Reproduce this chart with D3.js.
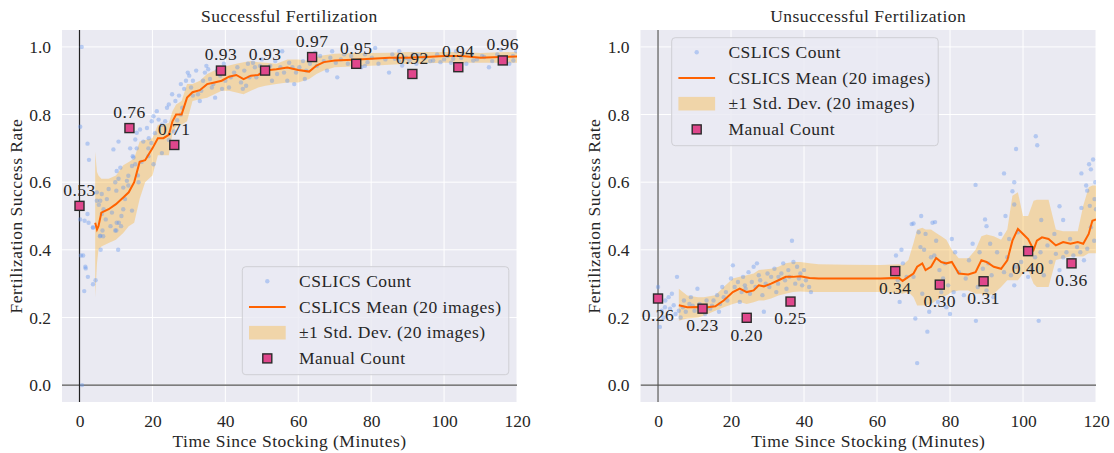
<!DOCTYPE html>
<html><head><meta charset="utf-8">
<script src="https://cdn.jsdelivr.net/npm/d3@7"></script>
<style>
body{margin:0;background:#fff}
</style>
</head><body>
<svg id="c" width="1114" height="453"></svg>
<script>
// ---------- DATA ----------
const xTicks = [0, 20, 40, 60, 80, 100, 120];
const yTicks = [0.0, 0.2, 0.4, 0.6, 0.8, 1.0];
const titles = ["Successful Fertilization", "Unsuccessful Fertilization"];
const xLabel = "Time Since Stocking (Minutes)";
const yLabel = "Fertilization Success Rate";
const legendLabels = ["CSLICS Count", "CSLICS Mean (20 images)", "\u00B11 Std. Dev. (20 images)", "Manual Count"];

// Successful: manual counts
const leftManualTime  = [0, 13.7, 26.0, 38.8, 50.9, 63.8, 75.9, 91.3, 103.9, 116.1];
const leftManualValue = [0.53, 0.76, 0.71, 0.93, 0.93, 0.97, 0.95, 0.92, 0.94, 0.96];
const leftManualText   = ["0.53", "0.76", "0.71", "0.93", "0.93", "0.97", "0.95", "0.92", "0.94", "0.96"];

// Successful: rolling mean and ±1 std band
const leftMeanTime = [4.3,4.8,5.2,6,8,10,12,13.5,15,16.5,18,20,21.5,23,24.5,25.5,26.5,28,29.5,31,33,35,37,39,41,43,45,47,49,51,54,57,60,63,65,67,70,75,80,85,90,95,100,105,110,115,120];
const leftMeanValue = [0.48,0.46,0.47,0.51,0.52,0.535,0.555,0.57,0.60,0.66,0.665,0.70,0.73,0.73,0.74,0.78,0.80,0.80,0.85,0.866,0.872,0.89,0.895,0.90,0.912,0.917,0.905,0.915,0.917,0.93,0.934,0.939,0.932,0.927,0.945,0.955,0.96,0.962,0.965,0.968,0.968,0.97,0.973,0.973,0.968,0.97,0.972];
const leftBandLow = [0.26,0.36,0.40,0.41,0.42,0.43,0.45,0.47,0.48,0.55,0.60,0.62,0.68,0.68,0.68,0.745,0.765,0.77,0.78,0.84,0.845,0.85,0.86,0.87,0.87,0.865,0.86,0.87,0.88,0.885,0.89,0.895,0.895,0.905,0.92,0.93,0.94,0.942,0.944,0.947,0.95,0.952,0.953,0.953,0.953,0.953,0.953];
const leftBandHigh = [0.69,0.63,0.62,0.61,0.61,0.62,0.65,0.66,0.67,0.72,0.725,0.73,0.77,0.77,0.775,0.81,0.83,0.84,0.89,0.89,0.90,0.92,0.93,0.94,0.945,0.95,0.955,0.958,0.955,0.953,0.95,0.963,0.963,0.958,0.97,0.975,0.98,0.982,0.982,0.983,0.985,0.985,0.985,0.985,0.982,0.984,0.985];

// Successful: individual CSLICS counts [time, rate]
const leftCountPoints = [
[0.7,0.0],[0.6,1.0],[0.2,0.764],[2.2,0.714],[2.6,0.666],[0.2,0.49],[2.2,0.506],[1.4,0.486],[2.5,0.48],[0.4,0.383],[1.0,0.383],[1.6,0.35],[1.7,0.345],[2.3,0.32],[1.3,0.278],[3.7,0.298],[4.4,0.31],[3.7,0.465],[5.6,0.44],[6.5,0.44],[5.8,0.40],[10.6,0.40],[10.1,0.457],[10.8,0.48],[11.4,0.47],[4.75,0.57],[4.75,0.545],[6.1,0.565],[5.7,0.545],[5.3,0.533],[6.6,0.52],[6.1,0.506],[8.9,0.51],[10.1,0.575],[10.7,0.61],[10.2,0.633],[11.2,0.643],[9.8,0.6],[12,0.584],[13,0.604],[13.4,0.619],[14.4,0.648],[14.8,0.673],[15.7,0.70],[13.9,0.70],[15.3,0.726],[15.7,0.746],[16.6,0.756],[18.5,0.76],[19.8,0.78],[21.2,0.81],[20.3,0.795],[21.7,0.785],[18.9,0.70],[18.9,0.677],[20.3,0.653],[15.3,0.653],[14.6,0.677],[13.4,0.59],[14.4,0.516],[9.8,0.457],[10.2,0.48],[6.3,0.457],[5.7,0.442],[3.7,0.467],[9.3,0.697],[10.7,0.72],
[7.5,0.55],[8,0.58],[7.2,0.49],[8.5,0.47],[12.5,0.55],[12,0.52],[11.5,0.50],[16,0.62],[17,0.66],[17.5,0.72],[19,0.73],[16.2,0.60],
[19.7,0.716],[20.7,0.745],[22.6,0.77],[23.5,0.78],[24,0.82],[24.5,0.83],[25.4,0.86],[26.3,0.84],[27.3,0.856],[27.8,0.89],[28.7,0.876],[29.2,0.90],[29.7,0.924],[30.1,0.915],[27.8,0.80],[26.8,0.783],[22.6,0.686],[24.5,0.725],[25.9,0.75],[28.2,0.82],[30.6,0.88],
[31.1,0.9],[32.5,0.86],[33.4,0.87],[33.9,0.9],[34.8,0.944],[35.3,0.934],[36.3,0.88],[37.2,0.85],[36.7,0.89],[37.7,0.93],[38.6,0.915],[39.6,0.95],[40,0.9],[39.1,0.876],[32,0.93],[34.4,0.924],[35.8,0.905],[33,0.84],[31.1,0.856],
[41,0.88],[41.5,0.91],[42.4,0.924],[43.3,0.94],[44.3,0.895],[44.8,0.876],[45.2,0.93],[46.2,0.95],[46.6,0.91],[47.6,0.953],[48.1,0.94],[48.5,0.91],[49.5,0.944],[50,0.963],[45.7,0.885],
[51.4,0.924],[52.3,0.944],[52.8,0.9],[53.7,0.958],[54.2,0.92],[55.1,0.94],[55.6,0.987],[56.1,0.924],[57,0.9],[57.5,0.953],[58.4,0.94],[58.9,0.89],[59.4,0.924],
[60.3,0.94],[61.3,0.958],[61.8,0.905],[62.2,0.93],[63.2,0.95],[64.6,0.983],[65.1,0.944],[66,0.973],[67,0.958],[67.9,0.93],[68.8,0.968],[69.3,0.987],[70.3,0.953],[70.7,0.91],
[71.7,0.963],[72.6,0.978],[73.6,0.95],[74.5,0.973],[76.4,0.958],[77.3,0.94],[78.3,0.978],[80.2,0.968],[81.1,0.997],[82,0.95],[83.9,0.963],[84.9,0.924],[85.8,0.978],[87.7,0.958],[89.6,0.968],[91.5,0.978],[92.4,0.95],[94.3,0.968],[96.2,0.958],[98.1,0.978],[100,0.963],[101,0.973],[101.9,0.953],[103.3,0.987],[104.7,0.968],[106.1,0.95],[107.6,0.978],[109,0.963],[110.4,0.973],[112.3,0.94],[113.2,0.958],[114.6,0.978],[115.6,0.992],[117,0.963],[117.9,0.95],[118.9,0.973],[119.8,0.987],[87.7,0.987],[78.3,0.944],
[75,0.96],[79,0.955],[86.5,0.965],[93,0.975],[97,0.96],[99,0.955],[102.5,0.965],[108,0.96],[111,0.97],[116,0.955],[119,0.96],[88.5,0.945],[95,0.97],[105,0.98],[90.5,0.96]
];

// Unsuccessful: manual counts
const rightManualTime  = [0, 12.2, 24.3, 36.3, 65.0, 77.2, 89.2, 101.4, 113.3];
const rightManualValue = [0.256, 0.226, 0.199, 0.247, 0.337, 0.297, 0.307, 0.396, 0.360];
const rightManualText  = ["0.26", "0.23", "0.20", "0.25", "0.34", "0.30", "0.31", "0.40", "0.36"];

// Unsuccessful: rolling mean and ±1 std band
const rightMeanTime = [5.7,8,11,12.5,15.7,18,20.5,22.4,24.3,26.2,27.6,29,31,33,35,37,39,41.5,44,52,61,66,67,68.6,70,71,72.4,73.3,74.8,76.2,77.6,79,80.5,82.4,85,87,88.6,90,92,94,95.7,97.1,98.6,100,101.4,102.9,103.8,105.2,107,109,111,113,115,116.5,118,119,120];
const rightMeanValue = [0.236,0.23,0.231,0.229,0.233,0.25,0.275,0.285,0.275,0.28,0.295,0.292,0.30,0.31,0.32,0.32,0.322,0.317,0.315,0.315,0.315,0.317,0.308,0.32,0.33,0.35,0.36,0.34,0.35,0.376,0.364,0.36,0.364,0.33,0.327,0.334,0.369,0.364,0.35,0.344,0.369,0.427,0.462,0.447,0.432,0.40,0.427,0.437,0.432,0.413,0.423,0.418,0.423,0.418,0.447,0.486,0.49];
const rightBandLow = [0.19,0.197,0.20,0.205,0.22,0.23,0.24,0.246,0.24,0.245,0.25,0.25,0.256,0.265,0.27,0.275,0.277,0.275,0.275,0.275,0.275,0.272,0.27,0.275,0.26,0.235,0.235,0.235,0.24,0.25,0.26,0.265,0.275,0.28,0.28,0.27,0.27,0.265,0.27,0.29,0.31,0.31,0.31,0.33,0.34,0.30,0.29,0.29,0.29,0.37,0.375,0.38,0.38,0.38,0.39,0.39,0.39];
const rightBandHigh = [0.285,0.265,0.26,0.26,0.266,0.29,0.315,0.32,0.325,0.33,0.34,0.342,0.344,0.35,0.36,0.364,0.364,0.36,0.357,0.356,0.355,0.357,0.355,0.37,0.42,0.46,0.465,0.46,0.46,0.45,0.44,0.43,0.40,0.375,0.375,0.40,0.44,0.445,0.44,0.43,0.46,0.56,0.57,0.50,0.50,0.545,0.548,0.548,0.548,0.46,0.455,0.455,0.455,0.53,0.585,0.59,0.59];

// Unsuccessful: individual CSLICS counts [time, rate]
const rightCountPoints = [
[0,0.29],[0.5,0.172],[1,0.22],[1.9,0.23],[2.9,0.26],[3.3,0.226],[4.3,0.236],[5.2,0.32],[5.7,0.22],[6.2,0.20],[7.1,0.25],[7.6,0.217],[8.6,0.24],[9,0.26],[10,0.22],[10.8,0.285],[11.4,0.24],[12.9,0.21],[13.3,0.25],[14.3,0.226],[15.2,0.25],[16.2,0.266],[16.7,0.217],[17.6,0.29],[18.6,0.275],[19,0.25],[20,0.315],[20.5,0.354],[21,0.29],[21.9,0.305],[22.4,0.246],[22.9,0.275],[23.3,0.32],[23.8,0.295],[24.8,0.334],[25.2,0.27],[25.7,0.305],[26.2,0.35],[26.7,0.29],[27.1,0.36],[27.6,0.325],[28.6,0.266],[29,0.217],[29.5,0.30],[30,0.33],[31,0.32],[31.9,0.344],[32.4,0.275],[32.9,0.30],[33.8,0.33],[34.3,0.36],[34.8,0.31],[35.2,0.285],[35.7,0.34],[36.7,0.427],[37.1,0.364],[37.6,0.30],[38.1,0.35],[38.6,0.315],[39.5,0.295],[40,0.34],[40.5,0.31],[41.4,0.29],[41.9,0.275],
[2,0.25],[3.8,0.27],[6.8,0.23],[9.5,0.235],[12,0.225],[14.8,0.235],[17,0.24],[18,0.26],[24,0.285],[28,0.31],[30.5,0.29],[33,0.32],[36,0.32],[39,0.33],[1.5,0.2],[4.8,0.21],
[65.2,0.383],[65.7,0.31],[66.2,0.246],[66.7,0.40],[67.1,0.36],[68.1,0.32],[69.5,0.476],[70,0.32],[70.5,0.197],[71,0.065],[71.4,0.452],[71.9,0.408],[72.4,0.27],[72.9,0.40],[73.3,0.447],[73.8,0.158],[74.3,0.217],[74.8,0.378],[75.2,0.48],[75.7,0.383],[76.2,0.427],[76.7,0.246],[77.1,0.34],[77.6,0.275],[78.1,0.315],[78.6,0.36],[79,0.23],[79.5,0.295],[80,0.21],[80.5,0.432],[81,0.275],[81.4,0.393],[82.4,0.334],[83.8,0.266],[84.3,0.315],[85.2,0.369],[86.2,0.418],[87.1,0.19],[87.6,0.29],[88.1,0.393],[89,0.344],[90,0.28],[90.5,0.36],[91,0.418],[91.4,0.325],[91.9,0.26],[92.9,0.393],[93.8,0.447],[94.8,0.334],[95.7,0.378],[96.2,0.432],[96.7,0.325],[97.6,0.295],[98.1,0.35],[98.6,0.452],[99.5,0.364],[100.5,0.408],[101.4,0.32],[102.4,0.344],[103.3,0.378],[104.3,0.19],[104.8,0.393],[105.7,0.325],[106.7,0.413],[107.6,0.364],[108.6,0.447],[109,0.388],[110,0.34],[111,0.378],[111.9,0.393],[112.9,0.432],[113.8,0.383],[114.8,0.408],[115.7,0.393],[116.7,0.369],[117.6,0.403],[118.6,0.467],[119.5,0.427],
[70,0.478],[72.1,0.50],[75.9,0.482],[87,0.592],[89.6,0.49],[90,0.47],[94.8,0.626],[95.2,0.50],[97.6,0.60],[97.1,0.573],[98.1,0.698],[97.6,0.534],[103.5,0.736],[103.9,0.709],[105,0.488],[110,0.529],[111,0.488],[116,0.626],[117.3,0.59],[117.6,0.575],[118.1,0.653],[118.6,0.638],[119.2,0.667],[118.3,0.53],[116,0.524],[119.8,0.60],[119.6,0.55],[120,0.52]
];

// ---------- FONT PICK ----------
function pickFont() {
  const cands = ["Liberation Serif", "DejaVu Serif", "Noto Serif", "Tinos", "Times New Roman", "FreeSerif", "Nimbus Roman", "Latin Modern Roman", "CMU Serif", "Georgia"];
  const ctx = document.createElement("canvas").getContext("2d");
  const sample = "Successful Fertilization 0123456789 WMwmil";
  for (const base of ["monospace", "sans-serif"]) {
    ctx.font = "40px " + base;
    const w0 = ctx.measureText(sample).width;
    for (const f of cands) {
      ctx.font = `40px "${f}", ${base}`;
      if (Math.abs(ctx.measureText(sample).width - w0) > 0.5) return `"${f}", serif`;
    }
  }
  return "serif";
}
const FONT = pickFont();

// ---------- DRAWING ----------
const svg = d3.select("#c");
const FS = 17.5, LS = "0.5px";
const C = {bg:"#EAEAF2", dot:"#6495ED", mean:"#FF6200", band:"#FFA500", sq:"#E0478C", sqEdge:"#2b2b2b", axis:"#555"};

function txt(sel) {
  return sel.style("font-family", FONT).attr("font-size", FS).style("letter-spacing", LS).attr("fill", "#262626");
}

function panel(p) {
  const x = d3.scaleLinear().domain([-4.8, 120]).range([p.left, p.right]);
  const y = d3.scaleLinear().domain([-0.05, 1.05]).range([402, 30]);
  const g = svg.append("g");
  const [x0, x1] = x.range(), [y0, y1] = [y.range()[1], y.range()[0]];
  const clipId = "clip" + p.id;
  svg.append("defs").append("clipPath").attr("id", clipId)
    .append("rect").attr("x", x0).attr("y", y0).attr("width", x1 - x0).attr("height", y1 - y0);

  g.append("rect").attr("x", x0).attr("y", y0).attr("width", x1 - x0).attr("height", y1 - y0).attr("fill", C.bg);
  g.selectAll(".gx").data(xTicks).join("line")
    .attr("x1", d => x(d)).attr("x2", d => x(d)).attr("y1", y0).attr("y2", y1)
    .attr("stroke", "#fff").attr("stroke-width", 1);
  g.selectAll(".gy").data(yTicks).join("line")
    .attr("y1", d => y(d)).attr("y2", d => y(d)).attr("x1", x0).attr("x2", x1)
    .attr("stroke", "#fff").attr("stroke-width", 1);

  const ax = g.append("g").attr("transform", `translate(0,${y1})`)
    .call(d3.axisBottom(x).tickValues(xTicks).tickSize(0).tickPadding(12.5).tickFormat(d3.format("d")));
  const ay = g.append("g").attr("transform", `translate(${x0},0)`)
    .call(d3.axisLeft(y).tickValues(yTicks).tickSize(0).tickPadding(11).tickFormat(d3.format(".1f")));
  [ax, ay].forEach(a => {
    a.attr("font-family", null);
    a.select(".domain").remove();
    txt(a.selectAll("text")).style("letter-spacing", "0px");
  });

  const inner = g.append("g").attr("clip-path", `url(#${clipId})`);
  inner.append("line").attr("x1", x0).attr("x2", x1).attr("y1", y(0)).attr("y2", y(0))
    .attr("stroke", C.axis).attr("stroke-width", 1.2);
  inner.append("line").attr("x1", x(0)).attr("x2", x(0)).attr("y1", y0).attr("y2", y1)
    .attr("stroke", p.vColor).attr("stroke-width", 1.2);

  const bandIdx = d3.range(p.meanTime.length);
  inner.append("path").datum(bandIdx)
    .attr("d", d3.area().x(i => x(p.meanTime[i])).y0(i => y(p.low[i])).y1(i => y(p.high[i])))
    .attr("fill", C.band).attr("fill-opacity", 0.3);
  inner.selectAll(".pt").data(p.points).join("circle")
    .attr("cx", d => x(d[0])).attr("cy", d => y(d[1])).attr("r", 2.2)
    .attr("fill", C.dot).attr("fill-opacity", 0.4);
  inner.append("path").datum(bandIdx)
    .attr("d", d3.line().x(i => x(p.meanTime[i])).y(i => y(p.mean[i])))
    .attr("fill", "none").attr("stroke", C.mean).attr("stroke-width", 2);

  const mIdx = d3.range(p.mTime.length);
  g.selectAll(".sq").data(mIdx).join("rect")
    .attr("x", i => x(p.mTime[i]) - 4.5).attr("y", i => y(p.mValue[i]) - 4.5)
    .attr("width", 9).attr("height", 9)
    .attr("fill", C.sq).attr("stroke", C.sqEdge).attr("stroke-width", 1.4);
  txt(g.selectAll(".lab").data(mIdx).join("text")
    .attr("x", i => x(p.mTime[i])).attr("y", i => y(p.mValue[i]) + p.labOff + 5.8)
    .attr("text-anchor", "middle").text(i => p.mText[i]));

  txt(g.append("text").attr("x", (x0 + x1) / 2).attr("y", 21.5).attr("text-anchor", "middle").text(p.title));
  txt(g.append("text").attr("x", (x0 + x1) / 2).attr("y", 446.5).attr("text-anchor", "middle").text(xLabel));
  txt(g.append("text").attr("transform", `translate(${x0 - 40.5},${(y0 + y1) / 2}) rotate(-90)`)
    .attr("text-anchor", "middle").text(yLabel));

  const L = g.append("g").attr("transform", `translate(${p.legX},${p.legY})`);
  L.append("rect").attr("width", 266.5).attr("height", 108).attr("rx", 3.5)
    .attr("fill", C.bg).attr("fill-opacity", 0.8).attr("stroke", "#cfcfd4").attr("stroke-width", 1);
  const rows = [14.5, 40.2, 66, 91.7];
  L.append("circle").attr("cx", 25).attr("cy", rows[0]).attr("r", 2.2).attr("fill", C.dot).attr("fill-opacity", 0.4);
  L.append("line").attr("x1", 6.7).attr("x2", 43.4).attr("y1", rows[1]).attr("y2", rows[1])
    .attr("stroke", C.mean).attr("stroke-width", 2);
  L.append("rect").attr("x", 6.7).attr("y", rows[2] - 6.8).attr("width", 36.7).attr("height", 13.6)
    .attr("fill", C.band).attr("fill-opacity", 0.3);
  L.append("rect").attr("x", 25 - 4.5).attr("y", rows[3] - 4.5).attr("width", 9).attr("height", 9)
    .attr("fill", C.sq).attr("stroke", C.sqEdge).attr("stroke-width", 1.4);
  txt(L.selectAll(".lt").data(legendLabels).join("text")
    .attr("x", 56.7).attr("y", (d, i) => rows[i] + 5.8).text(d => d));
}

panel({id: "L", left: 62, right: 517, title: titles[0], vColor: "#222",
  meanTime: leftMeanTime, mean: leftMeanValue, low: leftBandLow, high: leftBandHigh,
  points: leftCountPoints, mTime: leftManualTime, mValue: leftManualValue, mText: leftManualText,
  labOff: -16, legX: 242.3, legY: 266.7});
panel({id: "R", left: 640.5, right: 1096, title: titles[1], vColor: "#555",
  meanTime: rightMeanTime, mean: rightMeanValue, low: rightBandLow, high: rightBandHigh,
  points: rightCountPoints, mTime: rightManualTime, mValue: rightManualValue, mText: rightManualText,
  labOff: 17, legX: 671.7, legY: 37.7});
</script>
</body></html>
